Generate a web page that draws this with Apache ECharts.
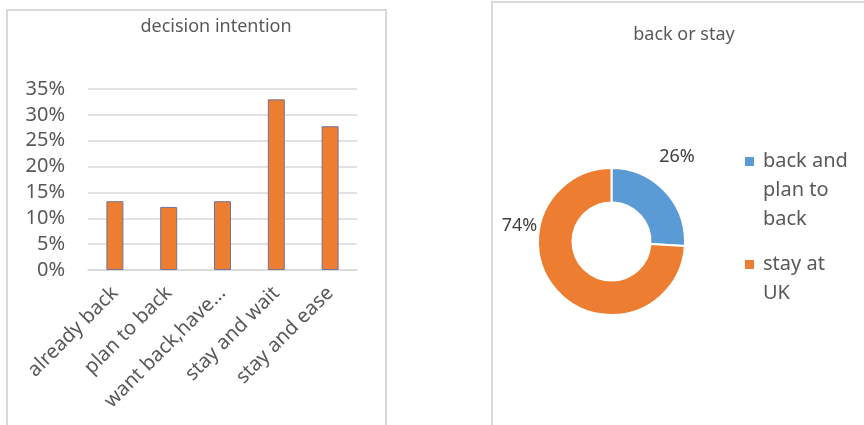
<!DOCTYPE html>
<html>
<head>
<meta charset="utf-8">
<script src="https://cdn.jsdelivr.net/npm/echarts@6/dist/echarts.min.js"></script>
<style>
  html, body { margin: 0; padding: 0; background: #fff; }
  #main { width: 864px; height: 425px; }
</style>
</head>
<body>
<div id="main"></div>
<script>
// bar chart: decision intention
var intentCategories = ['already back', 'plan to back', 'want back,have...', 'stay and wait', 'stay and ease'];
var intentValues = [13.3, 12.2, 13.3, 33.0, 27.8];
var yTicks = { min: 0, max: 35, interval: 5 };

// donut: back or stay
var choiceNames = ['back and plan to back', 'stay at UK'];
var choiceValues = [26, 74];
var choiceLegendText = ['back and\nplan to\nback', 'stay at\nUK'];

window.onload = function () {
  var chart = echarts.init(document.getElementById('main'));

  var font = 'Noto Sans';
  var pieCenter = [611.5, 241.5];
  // where the two percent labels sit, relative to the donut centre
  var pieLabelOffset = [[65.5, -84.5], [-92, -15.5]];

  var option = {
    animation: false,
    textStyle: { fontFamily: font },
    graphic: [
      {
        type: 'rect',
        shape: { x: 7, y: 10, width: 379, height: 440 },
        style: { fill: null, stroke: '#d9d9d9', lineWidth: 2 }
      },
      {
        type: 'rect',
        shape: { x: 492, y: 2, width: 420, height: 460 },
        style: { fill: null, stroke: '#d9d9d9', lineWidth: 2 }
      }
    ],
    title: [
      {
        text: 'decision intention',
        left: 216,
        top: 18,
        padding: 0,
        textAlign: 'center',
        textStyle: { fontFamily: font, fontSize: 18, fontWeight: 'normal', color: '#595959' }
      },
      {
        text: 'back or stay',
        left: 684,
        top: 26,
        padding: 0,
        textAlign: 'center',
        textStyle: { fontFamily: font, fontSize: 18, fontWeight: 'normal', color: '#595959' }
      }
    ],
    legend: [
      {
        data: [choiceNames[0]],
        left: 745,
        top: 147,
        padding: 0,
        orient: 'vertical',
        itemWidth: 9,
        itemHeight: 67,
        icon: 'path://M0,0L9,0L9,9L0,9Z M0,67L0.01,67Z',
        itemStyle: { borderWidth: 0 },
        formatter: function () { return choiceLegendText[0]; },
        textStyle: { fontFamily: font, fontSize: 20, lineHeight: 29, color: '#595959', padding: [0, 0, 0, 4] }
      },
      {
        data: [choiceNames[1]],
        left: 745,
        top: 250,
        padding: 0,
        orient: 'vertical',
        itemWidth: 9,
        itemHeight: 38,
        icon: 'path://M0,0L9,0L9,9L0,9Z M0,38L0.01,38Z',
        itemStyle: { borderWidth: 0 },
        formatter: function () { return choiceLegendText[1]; },
        textStyle: { fontFamily: font, fontSize: 20, lineHeight: 29, color: '#595959', padding: [0, 0, 0, 4] }
      }
    ],
    grid: {
      left: 88,
      right: 864 - 357,
      top: 89,
      bottom: 425 - 270,
      containLabel: false
    },
    xAxis: {
      type: 'category',
      data: intentCategories,
      axisLine: { show: true, lineStyle: { color: '#d9d9d9', width: 1.5 } },
      axisTick: { show: false },
      axisLabel: {
        interval: 0,
        rotate: 45,
        margin: 20,
        fontFamily: font,
        fontSize: 20,
        color: '#595959'
      }
    },
    yAxis: {
      type: 'value',
      min: yTicks.min,
      max: yTicks.max,
      interval: yTicks.interval,
      axisLine: { show: false },
      axisTick: { show: false },
      splitLine: { lineStyle: { color: '#d9d9d9', width: 1.5 } },
      axisLabel: {
        formatter: '{value}%',
        margin: 23,
        fontFamily: font,
        fontSize: 20,
        color: '#595959'
      }
    },
    series: [
      {
        name: 'decision intention',
        type: 'bar',
        data: intentValues,
        barWidth: 17,
        itemStyle: { color: '#ed7d31', borderColor: '#72739a', borderWidth: 1 }
      },
      {
        name: 'back or stay',
        type: 'pie',
        center: pieCenter,
        radius: [39, 73.5],
        startAngle: 90,
        clockwise: true,
        itemStyle: { borderColor: '#fff', borderWidth: 2 },
        label: {
          show: true,
          formatter: '{c}%',
          fontFamily: font,
          fontSize: 18,
          color: '#404040'
        },
        labelLine: { show: false },
        labelLayout: function (p) {
          var off = pieLabelOffset[p.dataIndex];
          return {
            x: pieCenter[0] + off[0],
            y: pieCenter[1] + off[1],
            align: 'center',
            verticalAlign: 'middle'
          };
        },
        emphasis: { disabled: true },
        data: choiceNames.map(function (n, i) {
          return { name: n, value: choiceValues[i], itemStyle: { color: ['#5b9bd5', '#ed7d31'][i] } };
        })
      }
    ]
  };

  chart.setOption(option);
};
</script>
</body>
</html>
